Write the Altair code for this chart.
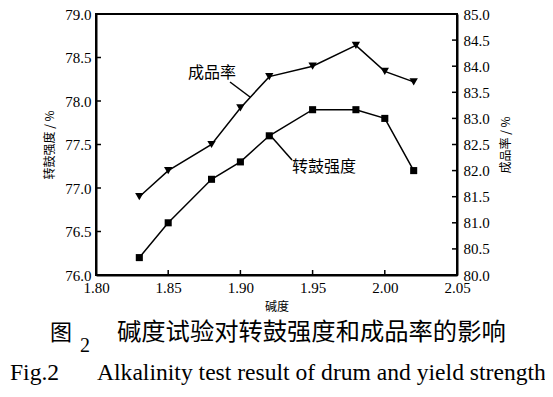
import altair as alt
import pandas as pd

# data
alkalinity = [1.83, 1.85, 1.88, 1.90, 1.92, 1.95, 1.98, 2.00, 2.02]
drum_strength = [76.2, 76.6, 77.1, 77.3, 77.6, 77.9, 77.9, 77.8, 77.2]
yield_rate = [81.5, 82.0, 82.5, 83.2, 83.8, 84.0, 84.4, 83.9, 83.7]
x_ticks = [1.80, 1.85, 1.90, 1.95, 2.00, 2.05]
left_ticks = [76.0, 76.5, 77.0, 77.5, 78.0, 78.5, 79.0]
right_ticks = [80.0, 80.5, 81.0, 81.5, 82.0, 82.5, 83.0, 83.5, 84.0, 84.5, 85.0]

W, H = 361, 261
TOP = 6
SERIF = "Liberation Serif"
CJK = "Noto Sans CJK SC"

df = pd.DataFrame({"x": alkalinity, "drum": drum_strength, "yield": yield_rate})
xt = pd.DataFrame({"x": x_ticks})
lt = pd.DataFrame({"drum": left_ticks})
rt = pd.DataFrame({"yield": right_ticks})

xscale = alt.Scale(domain=[1.80, 2.05], nice=False, zero=False)
lscale = alt.Scale(domain=[76.0, 79.0], nice=False, zero=False)
rscale = alt.Scale(domain=[80.0, 85.0], nice=False, zero=False)

common = dict(tickSize=0, grid=False, labelFont=SERIF, labelFontSize=15, labelColor="black",
              domainColor="black", domainWidth=2, labelOverlap=False, labelFlush=False,
              titleFont=CJK, titleFontWeight="normal", titleColor="black")
xaxis = alt.Axis(values=x_ticks, format=".2f", labelPadding=5, title="碱度", titleFontSize=12,
                 titlePadding=6, **common)
laxis = alt.Axis(values=left_ticks, format=".1f", labelPadding=5, title="转鼓强度 / %",
                 titleFontSize=12, titlePadding=8, **common)
raxis = alt.Axis(values=right_ticks, format=".1f", orient="right", labelPadding=6, title="成品率 / %",
                 titleFontSize=12, titlePadding=11, titleAngle=270, titleBaseline="top", **common)

X = alt.X("x:Q", scale=xscale, axis=xaxis)
YL = alt.Y("drum:Q", scale=lscale, axis=laxis)
YR = alt.Y("yield:Q", scale=rscale, axis=raxis)

base = alt.Chart(df)

drum_line = base.mark_line(color="black", strokeWidth=1.5).encode(x=X, y=YL)
drum_pts = base.mark_point(shape="square", filled=True, color="black", size=50, opacity=1).encode(x=X, y=YL)
lticks = alt.Chart(lt).mark_rule(color="black", strokeWidth=1.5).encode(
    y=YL, x=alt.value(0), x2=alt.value(5))
xticks = alt.Chart(xt).mark_rule(color="black", strokeWidth=1.5).encode(
    x=X, y=alt.value(H), y2=alt.value(H - 5))
left = alt.layer(drum_line, drum_pts, lticks, xticks)

yield_line = base.mark_line(color="black", strokeWidth=1.5).encode(x=X, y=YR)
yield_pts = base.mark_point(shape="triangle-down", filled=True, color="black", size=70, opacity=1).encode(x=X, y=YR)
rticks = alt.Chart(rt).mark_rule(color="black", strokeWidth=1.5).encode(
    y=YR, x=alt.value(W), x2=alt.value(W - 5))
right = alt.layer(yield_line, yield_pts, rticks)

# annotations (pixel positions relative to plot area)
oy = 8 + TOP
ann = alt.Chart(pd.DataFrame({"a": [0]}))
t1 = ann.mark_text(text="成品率", font=CJK, fontSize=16, align="left", baseline="middle", color="black").encode(
    x=alt.value(92), y=alt.value(73 - oy))
l1 = ann.mark_rule(color="black", strokeWidth=1.5).encode(
    x=alt.value(134), y=alt.value(82 - oy), x2=alt.value(154), y2=alt.value(97 - oy))
t2 = ann.mark_text(text="转鼓强度", font=CJK, fontSize=16, align="left", baseline="middle", color="black").encode(
    x=alt.value(196), y=alt.value(167 - oy))
l2 = ann.mark_rule(color="black", strokeWidth=1.5).encode(
    x=alt.value(174), y=alt.value(135 - oy), x2=alt.value(196), y2=alt.value(160 - oy))
c1a = ann.mark_text(text="图", font=CJK, fontSize=22, align="left", baseline="middle", color="black").encode(
    x=alt.value(-46), y=alt.value(333 - oy))
c1b = ann.mark_text(text="2", font=SERIF, fontSize=20, align="left", baseline="middle", color="black").encode(
    x=alt.value(-16), y=alt.value(346 - oy))
c1c = ann.mark_text(text="碱度试验对转鼓强度和成品率的影响", font=CJK, fontSize=24.3, align="left",
                    baseline="middle", color="black").encode(x=alt.value(21), y=alt.value(333 - oy))
c2a = ann.mark_text(text="Fig.2", font=SERIF, fontSize=23.6, align="left", baseline="middle", color="black").encode(
    x=alt.value(-86), y=alt.value(373 - oy))
c2b = ann.mark_text(text="Alkalinity test result of drum and yield strength", font=SERIF,
                    fontSize=23.6, align="left", baseline="middle", color="black").encode(
    x=alt.value(1), y=alt.value(373 - oy))
annotations = alt.layer(t1, l1, t2, l2, c1a, c1b, c1c, c2a, c2b)

chart = alt.layer(left, right, annotations).resolve_scale(y="independent").properties(
    width=W, height=H,
    autosize=alt.AutoSizeParams(type="none"),
    padding={"left": 88, "top": TOP, "right": 88, "bottom": 381 - TOP - H},
    background="white",
).configure_view(stroke="black", strokeWidth=2).configure_axis(
    labelFont=SERIF, titleFont=CJK, labelColor="black", titleColor="black", labelOverlap=False
)

chart.save("out.html", embed_options={"renderer": "svg", "actions": False})
